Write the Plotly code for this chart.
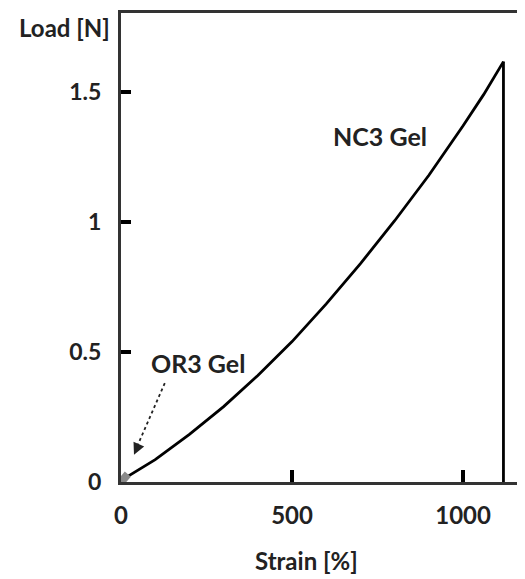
import plotly.graph_objects as go

# NC3 gel load-strain curve
nc3_strain = [0, 20, 100, 200, 300, 400, 500, 600, 700, 800, 900, 1000, 1060, 1118]
nc3_load = [0.0, 0.022, 0.086, 0.183, 0.29, 0.41, 0.54, 0.685, 0.84, 1.005, 1.18, 1.37, 1.49, 1.617]
# fracture drop
break_strain = [1118, 1118]
break_load = [1.617, 0.0]
# OR3 gel: tiny curve near origin
or3_strain = [0, 10, 20]
or3_load = [0.0, 0.015, 0.03]

x_ticks = [0, 500, 1000]
y_ticks = [0, 0.5, 1, 1.5]
y_tick_text = ["0", "0.5", "1", "1.5"]

FONT = "Lato"
TXT = "#222222"

fig = go.Figure()
fig.add_trace(go.Scatter(x=nc3_strain, y=nc3_load, mode="lines",
                         line=dict(color="black", width=2.8), showlegend=False))
fig.add_trace(go.Scatter(x=break_strain, y=break_load, mode="lines",
                         line=dict(color="black", width=2.8), showlegend=False))
fig.add_trace(go.Scatter(x=or3_strain, y=or3_load, mode="lines",
                         line=dict(color="#8a8a8a", width=8), showlegend=False))

fig.add_annotation(x=757, y=1.33, text="NC3 Gel", showarrow=False,
                   font=dict(family=FONT, size=25, color=TXT, weight="bold"))
fig.add_annotation(x=225, y=0.458, text="OR3 Gel", showarrow=False,
                   font=dict(family=FONT, size=25, color=TXT, weight="bold"))
# dashed arrow stem + arrow head
fig.add_shape(type="line", x0=128, y0=0.38, x1=45, y1=0.13, xref="x", yref="y",
              line=dict(color="#222222", width=1.8, dash="dot"))
fig.add_annotation(x=38, y=0.105, ax=5, ay=-11, text="", showarrow=True,
                   arrowhead=2, arrowsize=1.3, arrowwidth=1.8, arrowcolor="#222222")

fig.add_annotation(x=-0.139, y=0.970, xref="paper", yref="paper", text="Load [N]",
                   xanchor="center", yanchor="middle", showarrow=False,
                   font=dict(family=FONT, size=24, color=TXT, weight="bold"))
fig.add_annotation(x=0.460, y=-0.168, xref="paper", yref="paper", text="Strain [%]",
                   xanchor="center", yanchor="middle", showarrow=False,
                   font=dict(family=FONT, size=24, color=TXT, weight="bold"))

fig.update_xaxes(range=[0, 1181], tickvals=x_ticks, ticks="inside", ticklen=12, tickwidth=4,
                 tickcolor="black", showline=True, linewidth=3, linecolor="#333333",
                 mirror=True, showgrid=False, zeroline=False, ticklabelstandoff=10,
                 tickfont=dict(family=FONT, size=24, color=TXT, weight="bold"))
fig.update_yaxes(range=[0, 1.804], tickvals=y_ticks, ticktext=y_tick_text, ticks="inside",
                 ticklen=10, tickwidth=4, tickcolor="black", showline=True, linewidth=3,
                 linecolor="#333333", showgrid=False, zeroline=False, ticklabelstandoff=12,
                 tickfont=dict(family=FONT, size=23, color=TXT, weight="bold"))

fig.update_layout(width=517, height=571, margin=dict(l=113, r=0, t=5, b=97),
                  paper_bgcolor="white", plot_bgcolor="white")

fig.write_html("out.html")
